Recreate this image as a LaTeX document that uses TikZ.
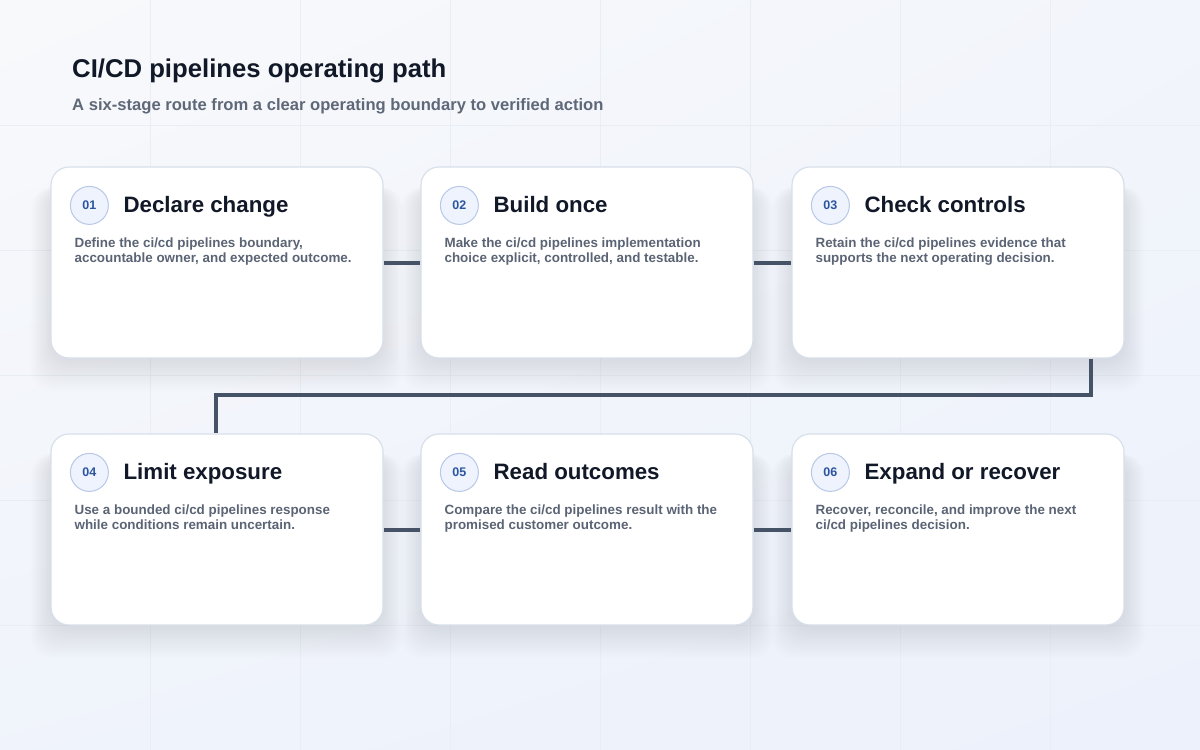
\documentclass[tikz,border=0pt]{standalone}
\usepackage{fontspec}
\setmainfont{Liberation Sans}
\usetikzlibrary{shadings}
\definecolor{bgA}{HTML}{F8F9FB}
\definecolor{bgB}{HTML}{ECF1FB}
\definecolor{gridc}{HTML}{E9EDF4}
\definecolor{cardborder}{HTML}{D8E0EB}
\definecolor{numfill}{HTML}{EEF3FD}
\definecolor{numborder}{HTML}{B8C8E6}
\definecolor{numtext}{HTML}{2C55A0}
\definecolor{titlec}{HTML}{111827}
\definecolor{descc}{HTML}{5B6474}
\definecolor{subc}{HTML}{5F6878}
\definecolor{linkc}{HTML}{465366}
\definecolor{shadowc}{HTML}{2A3A5E}
\tikzset{
  card/.style={draw=cardborder, line width=1.2pt, fill=white, rounded corners=18pt,
    minimum width=332pt, minimum height=191pt, inner sep=0pt},
  numc/.style={circle, draw=numborder, line width=1pt, fill=numfill, minimum size=38pt,
    inner sep=0pt, text=numtext, font=\fontsize{12.5}{12.5}\selectfont\bfseries},
  ctitle/.style={anchor=base west, inner sep=0pt, text=titlec, font=\fontsize{22.3}{22.3}\selectfont\bfseries},
  cdesc/.style={anchor=north west, inner sep=0pt, align=left, text=descc,
    font=\fontsize{13.4}{15}\selectfont\bfseries},
  link/.style={draw=linkc, line width=4pt},
}
\newcommand{\shadowbox}[4]{%
  \foreach \i in {1,...,32}{%
    \fill[shadowc, opacity=0.0055, rounded corners=22pt]
      ({#1+8-\i*0.9}, {#2+20}) rectangle ({#3-8+\i*0.9}, {#4-8+\i*1.3});
  }%
}
\newcommand{\stage}[7]{%
  \node[card] (#1) at (#2,#3) {};
  \node[numc] (#1n) at ([xshift=39pt,yshift=-39pt]#1.north west) {#4};
  \node[ctitle] (#1t) at ([xshift=73pt,yshift=-46.5pt]#1.north west) {#5};
  \node[cdesc] (#1d) at ([xshift=24pt,yshift=-71pt]#1.north west) {#6\\#7};
}
\begin{document}
\begin{tikzpicture}[x=1pt,y=-1pt]
\useasboundingbox (0,0) rectangle (1200,750);
\shade[upper left=bgA, upper right=bgA!50!bgB, lower left=bgA!30!bgB, lower right=bgB] (0,0) rectangle (1200,750);
\foreach \x in {150,300,...,1050} \draw[gridc, line width=0.6pt] (\x,0) -- (\x,750);
\foreach \y in {125,250,...,625} \draw[gridc, line width=0.6pt] (0,\y) -- (1200,\y);
% titles
\node[anchor=base west, inner sep=0pt, text=titlec, font=\fontsize{25.7}{25.7}\selectfont\bfseries] (head) at (72,77) {CI/CD pipelines operating path};
\node[anchor=base west, inner sep=0pt, text=subc, font=\fontsize{16.6}{16.6}\selectfont\bfseries] (sub) at (72,110) {A six-stage route from a clear operating boundary to verified action};
% shadows
\foreach \xa/\xb in {51/383,421/753,792/1124}{
  \shadowbox{\xa}{167}{\xb}{358}
  \shadowbox{\xa}{434}{\xb}{625}
}
% connector coordinates and links
\coordinate (k1) at (1091,395);
\coordinate (k2) at (216,395);
\stage{s1}{217}{262.5}{01}{Declare change}{Define the ci/cd pipelines boundary,}{accountable owner, and expected outcome.}
\stage{s2}{587}{262.5}{02}{Build once}{Make the ci/cd pipelines implementation}{choice explicit, controlled, and testable.}
\stage{s3}{958}{262.5}{03}{Check controls}{Retain the ci/cd pipelines evidence that}{supports the next operating decision.}
\stage{s4}{217}{529.5}{04}{Limit exposure}{Use a bounded ci/cd pipelines response}{while conditions remain uncertain.}
\stage{s5}{587}{529.5}{05}{Read outcomes}{Compare the ci/cd pipelines result with the}{promised customer outcome.}
\stage{s6}{958}{529.5}{06}{Expand or recover}{Recover, reconcile, and improve the next}{ci/cd pipelines decision.}
\draw[link] (s1.east) -- (s2.west);
\draw[link] (s2.east) -- (s3.west);
\draw[link] (s4.east) -- (s5.west);
\draw[link] (s5.east) -- (s6.west);
\draw[link] (s3.south -| k1) -- (k1) -- (k2) -- (s4.north -| k2);
\end{tikzpicture}
\end{document}
